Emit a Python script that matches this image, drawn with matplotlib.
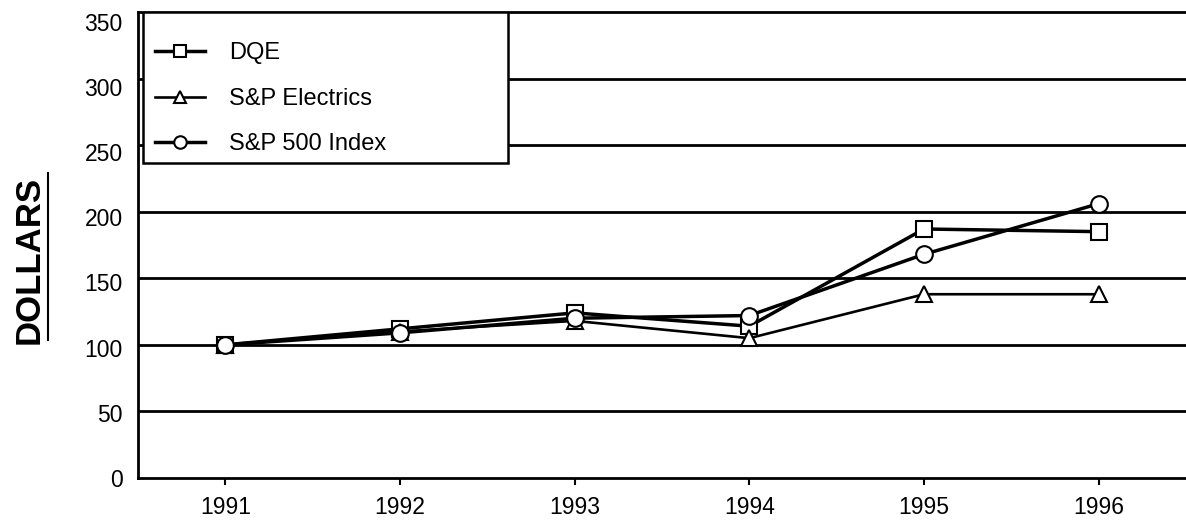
import matplotlib.pyplot as plt
import matplotlib.lines as mlines
import matplotlib.patches as mpatches
import matplotlib.transforms as mtransforms

plt.rcParams['font.family'] = ['Liberation Sans', 'DejaVu Sans']

# five year cumulative value of $100 invested
years = [1991, 1992, 1993, 1994, 1995, 1996]
dqe = [100, 112, 124, 114, 187, 185]
sp_electrics = [100, 110, 118, 105, 138, 138]
sp_500 = [100, 109, 120, 122, 168, 206]

fig = plt.figure(figsize=(11.86, 5.2), dpi=100)
ax = fig.add_axes([0.1164, 0.0808, 0.8836, 0.8962])

# horizontal rules every 50 dollars
for v in range(50, 350, 50):
    ax.axhline(v, color='black', linewidth=2.0, zorder=1)

ax.plot(years, dqe, '-s', color='black', linewidth=2.5, markersize=11.5,
        markerfacecolor='white', markeredgewidth=1.5, label='DQE', zorder=3)
ax.plot(years, sp_electrics, '-^', color='black', linewidth=1.9, markersize=12,
        markerfacecolor='white', markeredgewidth=1.5, label='S&P Electrics', zorder=3)
ax.plot(years, sp_500, '-o', color='black', linewidth=2.5, markersize=12,
        markerfacecolor='white', markeredgewidth=1.5, label='S&P 500 Index', zorder=4)

ax.set_xlim(1990.5, 1996.5)
ax.set_ylim(0, 350)
ax.set_xticks(years)
ax.set_yticks(range(0, 351, 50))
ax.tick_params(axis='y', length=0, labelsize=16.5, pad=11)
ax.tick_params(axis='x', length=5, width=1.5, direction='out', labelsize=16.5, pad=8)

# the printed labels creep a little below their rules going up the axis
for i, lab in enumerate(ax.get_yticklabels()):
    off = mtransforms.ScaledTranslation(0, -0.014 * i, fig.dpi_scale_trans)
    lab.set_transform(lab.get_transform() + off)

ax.spines['right'].set_visible(False)
for s in ['left', 'top', 'bottom']:
    ax.spines[s].set_linewidth(2)

# legend box drawn separately so the entries can sit low in it
box = mpatches.Rectangle((0.0048, 0.675), 0.348, 0.325, transform=ax.transAxes,
                         facecolor='white', edgecolor='black', linewidth=1.8, zorder=5)
ax.add_patch(box)
leg = ax.legend(loc='upper left', bbox_to_anchor=(0.0162, 0.935), frameon=False,
                fontsize=17, borderpad=0, labelspacing=1.0,
                handlelength=2.1, handletextpad=1.05, markerscale=0.75,
                borderaxespad=0)
leg.set_zorder(6)

# underlined axis title
fig.text(0.0245, 0.50, 'DOLLARS', rotation=90, fontsize=25, fontweight='bold',
         ha='center', va='center')
fig.add_artist(mlines.Line2D([0.0405, 0.0405], [0.346, 0.667], color='black', linewidth=1.5))

plt.savefig('out.png')
